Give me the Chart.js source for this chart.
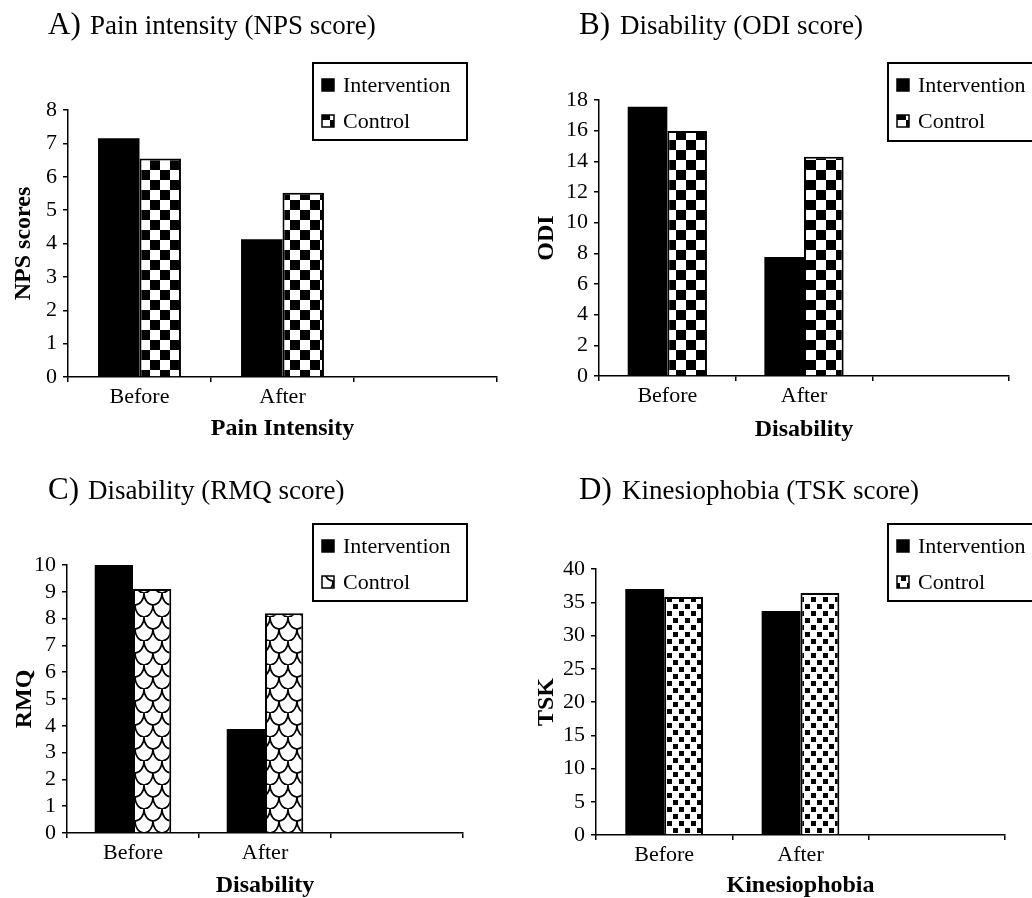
<!DOCTYPE html>
<html>
<head>
<meta charset="utf-8">
<script src="https://cdn.jsdelivr.net/npm/chart.js@4/dist/chart.umd.min.js"></script>
<style>
  body { margin: 0; background: #fff; }
  #wrap { position: relative; width: 1032px; height: 898px; overflow: hidden; }
  .panel { position: absolute; width: 516px; height: 449px; }
</style>
</head>
<body>
<div id="wrap">
  <div class="panel" style="left:0;top:0"><canvas id="chartA" width="516" height="449"></canvas></div>
  <div class="panel" style="left:516px;top:0"><canvas id="chartB" width="516" height="449"></canvas></div>
  <div class="panel" style="left:0;top:449px"><canvas id="chartC" width="516" height="449"></canvas></div>
  <div class="panel" style="left:516px;top:449px"><canvas id="chartD" width="516" height="449"></canvas></div>
</div>
<script>
// данные
const categories = ['Before', 'After', ''];
const seriesNames = ['Intervention', 'Control'];

const npsIntervention = [7.15, 4.13, null];
const npsControl = [6.55, 5.52, null];

const odiIntervention = [17.56, 7.76, null];
const odiControl = [15.98, 14.3, null];

const rmqIntervention = [10.0, 3.88, null];
const rmqControl = [9.1, 8.2, null];

const tskIntervention = [37.0, 33.7, null];
const tskControl = [35.8, 36.4, null];

const serif = '"Liberation Serif", "Times New Roman", serif';

// узоры для столбиков Control
function makeTile(w, h, draw) {
    const c = document.createElement('canvas');
    c.width = w;
    c.height = h;
    const g = c.getContext('2d');
    g.fillStyle = '#fff';
    g.fillRect(0, 0, w, h);
    g.fillStyle = '#000';
    g.strokeStyle = '#000';
    draw(g);
    return g.createPattern(c, 'repeat');
}

const checker = makeTile(20, 20, function (g) {
    g.fillRect(10, 0, 10, 10);
    g.fillRect(0, 10, 10, 10);
});

const scales = makeTile(18, 24, function (g) {
    g.lineWidth = 1.6;
    [[9, 0], [0, 12], [18, 12]].forEach(function (p) {
        g.beginPath();
        g.ellipse(p[0], p[1], 9, 12, 0, 0, Math.PI);
        g.stroke();
    });
});

const dots = makeTile(12, 14, function (g) {
    g.fillRect(1, 1, 5, 5);
    g.fillRect(7, 8, 5, 5);
});

// заголовок панели
const panelTitle = {
    id: 'panelTitle',
    afterDraw(chart, args, opts) {
        const ctx = chart.ctx;
        ctx.save();
        ctx.fillStyle = '#000';
        ctx.textBaseline = 'alphabetic';
        ctx.textAlign = 'left';
        ctx.font = '31px ' + serif;
        ctx.fillText(opts.letter, opts.x, opts.y);
        ctx.font = '27px ' + serif;
        ctx.fillText(opts.text, opts.textX, opts.y);
        ctx.restore();
    }
};

// легенда в рамке
const boxLegend = {
    id: 'boxLegend',
    afterDraw(chart, args, opts) {
        const ctx = chart.ctx;
        ctx.save();
        ctx.lineWidth = 2;
        ctx.strokeStyle = '#000';
        ctx.fillStyle = '#fff';
        ctx.fillRect(opts.x, opts.y, opts.w, opts.h);
        ctx.strokeRect(opts.x, opts.y, opts.w, opts.h);
        ctx.font = '22px ' + serif;
        ctx.textBaseline = 'alphabetic';
        chart.data.datasets.forEach(function (ds, i) {
            const top = opts.y + 16 + i * 36;
            ctx.fillStyle = ds.backgroundColor;
            ctx.fillRect(opts.x + 9, top, 12, 12);
            ctx.lineWidth = 1.5;
            ctx.strokeRect(opts.x + 9, top, 12, 12);
            ctx.fillStyle = '#000';
            ctx.fillText(ds.label, opts.x + 30, opts.y + 29 + i * 36);
        });
        ctx.restore();
    }
};

Chart.register(panelTitle, boxLegend);

function makeChart(id, cfg) {
    new Chart(document.getElementById(id), {
        type: 'bar',
        data: {
            labels: categories,
            datasets: [{
                label: seriesNames[0],
                data: cfg.intervention,
                backgroundColor: '#000',
                borderColor: '#000',
                borderWidth: 0
            }, {
                label: seriesNames[1],
                data: cfg.control,
                backgroundColor: cfg.pattern,
                borderColor: '#000',
                borderWidth: 2
            }]
        },
        options: {
            responsive: false,
            animation: false,
            layout: {
                padding: { left: 0, top: cfg.top, right: cfg.right, bottom: 0 }
            },
            datasets: {
                bar: { categoryPercentage: cfg.catPct, barPercentage: 1 }
            },
            scales: {
                x: {
                    afterFit: function (s) { s.height = cfg.xHeight; },
                    grid: { drawOnChartArea: false, color: '#000', lineWidth: 1.5, tickLength: 5, offset: true },
                    border: { color: '#000', width: 1.5 },
                    ticks: { color: '#000', padding: 2, autoSkip: false, maxRotation: 0, font: { family: serif, size: 22 } },
                    title: {
                        display: true,
                        text: cfg.xTitle,
                        color: '#000',
                        padding: { top: 0, bottom: cfg.xTitlePad },
                        font: { family: serif, size: 24, weight: 'bold', lineHeight: 1 }
                    }
                },
                y: {
                    min: 0,
                    max: cfg.max,
                    afterFit: function (s) { s.width = cfg.yWidth; },
                    grid: { drawOnChartArea: false, color: '#000', lineWidth: 1.5, tickLength: 5 },
                    border: { color: '#000', width: 1.5 },
                    ticks: { color: '#000', stepSize: cfg.step, autoSkip: false, padding: 6, font: { family: serif, size: 22 } },
                    title: {
                        display: true,
                        text: cfg.yTitle,
                        color: '#000',
                        padding: { top: cfg.yTitlePad, bottom: 0 },
                        font: { family: serif, size: 24, weight: 'bold', lineHeight: 1 }
                    }
                }
            },
            plugins: {
                legend: { display: false },
                tooltip: { enabled: false },
                panelTitle: cfg.title,
                boxLegend: cfg.legend
            }
        }
    });
}

makeChart('chartA', {
    intervention: npsIntervention, control: npsControl, pattern: checker,
    max: 8, step: 1, yTitle: 'NPS scores', xTitle: 'Pain Intensity',
    top: 110, right: 19, yWidth: 68, xHeight: 72, yTitlePad: 12, xTitlePad: 8, catPct: 0.58,
    title: { letter: 'A)', text: 'Pain intensity (NPS score)', x: 48, textX: 90, y: 34 },
    legend: { x: 313, y: 63, w: 154, h: 77 }
});

makeChart('chartB', {
    intervention: odiIntervention, control: odiControl, pattern: checker,
    max: 18, step: 2, yTitle: 'ODI', xTitle: 'Disability',
    top: 100, right: 23, yWidth: 83, xHeight: 73, yTitlePad: 19, xTitlePad: 7, catPct: 0.58,
    title: { letter: 'B)', text: 'Disability (ODI score)', x: 63, textX: 104, y: 34 },
    legend: { x: 372, y: 63, w: 160, h: 78 }
});

makeChart('chartC', {
    intervention: rmqIntervention, control: rmqControl, pattern: scales,
    max: 10, step: 1, yTitle: 'RMQ', xTitle: 'Disability',
    top: 116, right: 53, yWidth: 67, xHeight: 65, yTitlePad: 13, xTitlePad: 0, catPct: 0.58,
    title: { letter: 'C)', text: 'Disability (RMQ score)', x: 48, textX: 88, y: 50 },
    legend: { x: 313, y: 75, w: 154, h: 77 }
});

makeChart('chartD', {
    intervention: tskIntervention, control: tskControl, pattern: dots,
    max: 40, step: 5, yTitle: 'TSK', xTitle: 'Kinesiophobia',
    top: 120, right: 27, yWidth: 80, xHeight: 63, yTitlePad: 19, xTitlePad: 0, catPct: 0.57,
    title: { letter: 'D)', text: 'Kinesiophobia (TSK score)', x: 63, textX: 106, y: 50 },
    legend: { x: 372, y: 75, w: 160, h: 77 }
});
</script>
</body>
</html>
